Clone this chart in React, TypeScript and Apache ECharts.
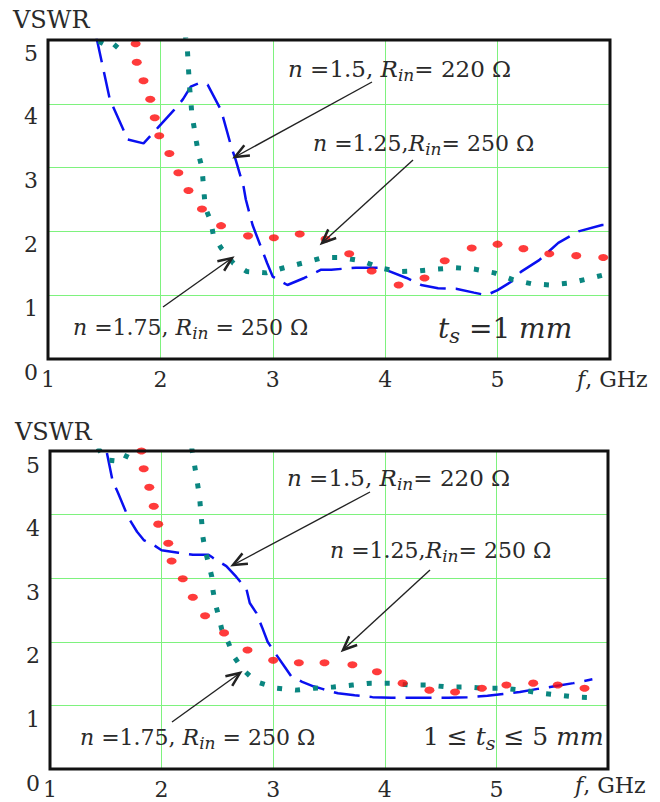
import React, { useEffect, useRef } from 'react';
import * as echarts from 'echarts';

const FONT = 'DejaVu Serif';
const TXT = '#2a2a2a';

const xTicks = [1, 2, 3, 4, 5, 6];
const yTicks = [0, 1, 2, 3, 4, 5];

// ---- top panel: t_s = 1 mm ----
const blueTop = [[1.43, 5.05], [1.55, 4.07], [1.71, 3.44], [1.85, 3.38], [1.98, 3.63], [2.12, 3.9], [2.2, 4.07], [2.27, 4.27], [2.35, 4.33], [2.42, 4.3], [2.54, 3.9], [2.63, 3.33], [2.67, 3.12], [2.74, 2.7], [2.76, 2.5], [2.82, 2.1], [2.95, 1.5], [3.0, 1.29], [3.13, 1.16], [3.28, 1.27], [3.43, 1.4], [3.52, 1.4], [3.74, 1.43], [3.96, 1.43], [4.19, 1.27], [4.32, 1.16], [4.47, 1.11], [4.63, 1.1], [4.79, 1.04], [4.9, 1.0], [5.0, 1.08], [5.12, 1.21], [5.21, 1.37], [5.37, 1.55], [5.54, 1.82], [5.72, 2.0], [5.93, 2.1], [6.0, 2.1]];
const redTop = [[1.78, 4.94], [1.79, 4.65], [1.85, 4.36], [1.91, 4.07], [1.95, 3.78], [1.99, 3.5], [2.08, 3.22], [2.16, 2.92], [2.25, 2.64], [2.37, 2.35], [2.54, 2.09], [2.78, 1.93], [3.01, 1.9], [3.24, 1.96], [3.47, 1.88], [3.68, 1.65], [3.88, 1.38], [4.12, 1.16], [4.35, 1.27], [4.53, 1.54], [4.77, 1.74], [5.0, 1.8], [5.23, 1.73], [5.46, 1.65], [5.7, 1.62], [5.94, 1.59]];
const tealTopA = [[1.45, 4.98], [1.58, 4.86], [1.69, 5.08]];
const tealTopB = [[2.22, 5.1], [2.24, 4.85], [2.25, 4.54], [2.26, 4.25], [2.27, 4.07], [2.28, 3.83], [2.3, 3.63], [2.32, 3.41], [2.34, 3.2], [2.37, 3.0], [2.38, 2.78], [2.39, 2.57], [2.4, 2.37], [2.45, 2.15], [2.47, 1.95], [2.54, 1.74], [2.65, 1.5], [2.77, 1.37], [2.94, 1.35], [3.1, 1.43], [3.28, 1.51], [3.45, 1.59], [3.61, 1.59], [3.79, 1.54], [3.95, 1.43], [4.12, 1.37], [4.29, 1.38], [4.46, 1.41], [4.63, 1.43], [4.79, 1.41], [4.97, 1.35], [5.14, 1.24], [5.3, 1.18], [5.47, 1.16], [5.64, 1.19], [5.81, 1.26], [5.97, 1.33]];

// ---- bottom panel: 1 <= t_s <= 5 mm ----
const blueBot = [[1.51, 4.97], [1.56, 4.54], [1.61, 4.34], [1.7, 3.96], [1.78, 3.73], [1.84, 3.6], [1.93, 3.52], [2.0, 3.44], [2.15, 3.4], [2.28, 3.37], [2.42, 3.37], [2.46, 3.32], [2.58, 3.19], [2.67, 3.02], [2.76, 2.83], [2.79, 2.61], [2.85, 2.45], [2.9, 2.23], [2.95, 2.0], [3.03, 1.79], [3.09, 1.64], [3.16, 1.46], [3.26, 1.37], [3.36, 1.3], [3.44, 1.26], [3.58, 1.19], [3.73, 1.16], [3.89, 1.13], [4.06, 1.12], [4.4, 1.12], [4.57, 1.12], [4.74, 1.13], [4.92, 1.15], [5.06, 1.18], [5.21, 1.21], [5.37, 1.26], [5.52, 1.3], [5.69, 1.35], [5.86, 1.41]];
const redBot = [[1.82, 5.0], [1.84, 4.72], [1.89, 4.43], [1.93, 4.13], [1.97, 3.85], [2.06, 3.55], [2.09, 3.27], [2.19, 2.99], [2.28, 2.7], [2.39, 2.41], [2.56, 2.14], [2.77, 1.87], [3.0, 1.71], [3.23, 1.67], [3.46, 1.67], [3.71, 1.64], [3.93, 1.53], [4.16, 1.35], [4.4, 1.24], [4.63, 1.21], [4.87, 1.27], [5.09, 1.32], [5.33, 1.35], [5.55, 1.32], [5.79, 1.27]];
const tealBotA = [[1.43, 5.05], [1.5, 4.86], [1.66, 4.83], [1.72, 5.05]];
const tealBotB = [[2.27, 5.05], [2.28, 4.94], [2.31, 4.62], [2.34, 4.28], [2.35, 4.07], [2.36, 3.87], [2.37, 3.65], [2.39, 3.44], [2.42, 3.24], [2.45, 3.02], [2.46, 2.81], [2.48, 2.61], [2.51, 2.41], [2.54, 2.19], [2.6, 1.98], [2.64, 1.79], [2.73, 1.56], [2.85, 1.37], [3.03, 1.27], [3.2, 1.24], [3.37, 1.27], [3.54, 1.29], [3.71, 1.32], [3.88, 1.35], [4.05, 1.35], [4.22, 1.32], [4.38, 1.32], [4.56, 1.29], [4.73, 1.29], [4.89, 1.27], [5.06, 1.27], [5.24, 1.24], [5.4, 1.19], [5.57, 1.16], [5.73, 1.13], [5.9, 1.12]];

const BLUE = '#0a10f0';
const RED = '#ff0a0a';
const TEAL = '#0a8680';
const GRIDC = '#7ef27e';

const GRIDS = [
  { left: 48, top: 40, width: 562, height: 319 },
  { left: 50, top: 451, width: 558, height: 318 },
];

const blueSeries = (data: number[][], gi: number) => ({
  type: 'line', xAxisIndex: gi, yAxisIndex: gi, data, symbol: 'none', z: 3,
  lineStyle: { color: BLUE, width: 2.5, type: [26, 10] },
});
const tealSeries = (data: number[][], gi: number) => ({
  type: 'line', xAxisIndex: gi, yAxisIndex: gi, data, symbol: 'none', z: 4,
  lineStyle: { color: TEAL, width: 5, type: [5, 13], cap: 'butt' },
});
const redSeries = (data: number[][], gi: number) => ({
  type: 'scatter', xAxisIndex: gi, yAxisIndex: gi, data, symbol: 'circle', symbolSize: [10, 7], z: 5,
  itemStyle: { color: RED },
});

const xAxis = (gi: number) => ({
  type: 'value', gridIndex: gi, min: xTicks[0], max: xTicks[xTicks.length - 1], interval: 1,
  axisLine: { show: false }, axisTick: { show: false },
  splitLine: { show: true, showMinLine: false, showMaxLine: false, lineStyle: { color: GRIDC, width: 1 } },
  axisLabel: { showMaxLabel: false, fontFamily: FONT, fontSize: 22, color: TXT, margin: 9 },
});
const yAxis = (gi: number, lh: number) => ({
  type: 'value', gridIndex: gi, min: yTicks[0], max: yTicks[yTicks.length - 1], interval: 1,
  axisLine: { show: false }, axisTick: { show: false },
  splitLine: { show: true, showMinLine: false, showMaxLine: false, lineStyle: { color: GRIDC, width: 1 } },
  axisLabel: { fontFamily: FONT, fontSize: 22, color: TXT, margin: 10, verticalAlign: 'top', lineHeight: lh },
});

const tok = (size: number, italic: boolean, extra: any = {}) => ({
  fontFamily: FONT, fontSize: size, fontWeight: 'normal', fontStyle: italic ? 'italic' : 'normal',
  color: TXT, ...extra,
});

// text annotations as title components (left / vertical centre in px)
const note = (x: number, cy: number, text: string, size = 21) => ({
  text, left: x, top: Math.round(cy - size * 0.62), padding: 0,
  textStyle: {
    ...tok(size, false),
    rich: {
      i: tok(size, true),
      s: tok(Math.round(size * 0.75), true, { padding: [Math.round(size * 0.5), 0, 0, 0] }),
    },
  },
});

const arrow = (x1: number, y1: number, x2: number, y2: number) => {
  const ang = Math.atan2(y2 - y1, x2 - x1);
  const L = 15, a = 0.4;
  const p1 = [x2 - L * Math.cos(ang - a), y2 - L * Math.sin(ang - a)];
  const p2 = [x2 - L * Math.cos(ang + a), y2 - L * Math.sin(ang + a)];
  return [
    { type: 'line', z: 100, shape: { x1, y1, x2, y2 }, style: { stroke: '#222', lineWidth: 1.4 } },
    { type: 'polyline', z: 100, shape: { points: [p1, [x2, y2], p2] }, style: { stroke: '#222', lineWidth: 2.5, fill: null } },
  ];
};

const frame = (g: { left: number; top: number; width: number; height: number }) => ({
  type: 'rect', z: 90, shape: { x: g.left, y: g.top, width: g.width, height: g.height },
  style: { stroke: '#111', lineWidth: 3, fill: null },
});

export default function App() {
  const ref = useRef<HTMLDivElement>(null);
  useEffect(() => {
    if (!ref.current) return;
    const chart = echarts.init(ref.current, undefined, { renderer: 'svg' });
    const option: any = {
      animation: false,
      backgroundColor: '#ffffff',
      textStyle: { fontFamily: FONT },
      grid: GRIDS.map((g) => ({ ...g, show: false })),
      xAxis: [xAxis(0), xAxis(1)],
      yAxis: [yAxis(0, 26), yAxis(1, 28)],
      series: [
        blueSeries(blueTop, 0), tealSeries(tealTopA, 0), tealSeries(tealTopB, 0), redSeries(redTop, 0),
        blueSeries(blueBot, 1), tealSeries(tealBotA, 1), tealSeries(tealBotB, 1), redSeries(redBot, 1),
      ],
      title: [
        note(13, 23, 'VSWR', 24),
        note(577, 382, '{i|f}, GHz', 22),
        note(288, 68, '{i|n} =1.5, {i|R}{s|in}= 220 Ω', 23),
        note(313, 143, '{i|n} =1.25,{i|R}{s|in}= 250 Ω', 22),
        note(73, 327, '{i|n} =1.75, {i|R}{s|in} = 250 Ω', 22),
        note(438, 328, '{i|t}{s|s} =1 {i|mm}', 28),

        note(15, 435, 'VSWR', 24),
        note(575, 788, '{i|f}, GHz', 22),
        note(287, 477, '{i|n} =1.5, {i|R}{s|in}= 220 Ω', 23),
        note(330, 550, '{i|n} =1.25,{i|R}{s|in}= 250 Ω', 22),
        note(80, 737, '{i|n} =1.75, {i|R}{s|in} = 250 Ω', 22),
        note(423, 735, '1 ≤ {i|t}{s|s} ≤ 5 {i|mm}', 25),
      ],
      graphic: [
        frame(GRIDS[0]),
        frame(GRIDS[1]),
        ...arrow(372, 82, 235, 157),
        ...arrow(413, 160, 322, 243),
        ...arrow(163, 307, 232, 258),
        ...arrow(370, 492, 233, 565),
        ...arrow(430, 570, 343, 650),
        ...arrow(172, 722, 240, 673),
      ],
    };
    chart.setOption(option);
    return () => chart.dispose();
  }, []);
  return <div ref={ref} style={{ position: 'absolute', left: 0, top: 0, width: 660, height: 802, background: '#fff' }} />;
}
